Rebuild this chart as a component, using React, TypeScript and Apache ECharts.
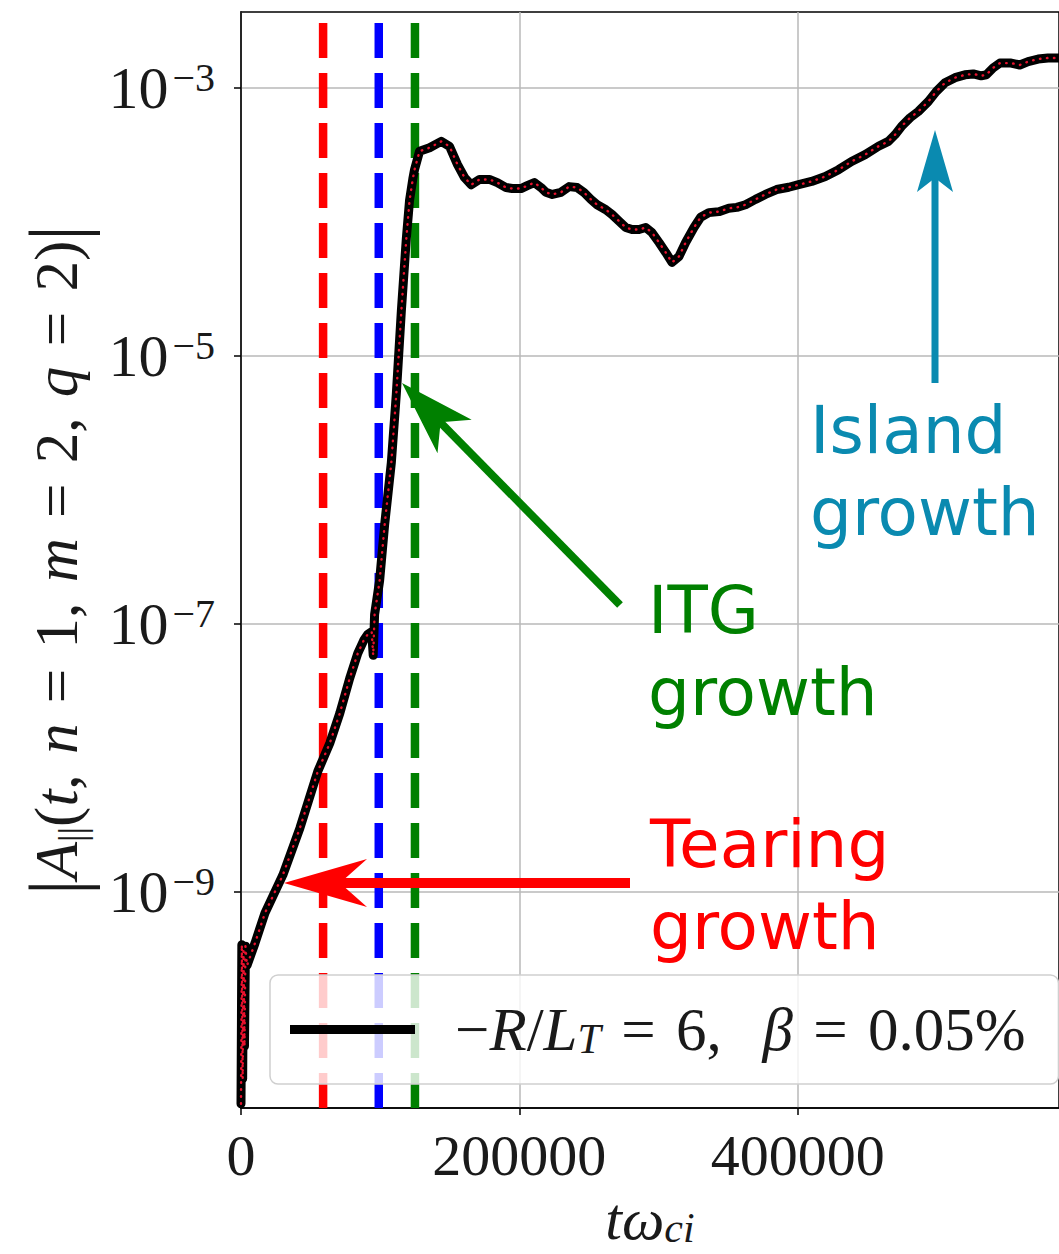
import React, { useEffect, useRef } from "react";
import * as echarts from "echarts";

// ---- data ----
const times = [
  0, 600, 1200, 1800, 2500, 3200, 4300, 10000, 17200, 30100, 42300, 55200, 63800, 71000, 78100,
  83900, 88200, 91000, 93900, 95000, 96000, 99600, 103200, 108000, 111600, 115200, 118800, 121100,
  123500, 124700, 128300, 135500, 143900, 149800, 155600, 160600, 165400, 171300, 178500, 184200,
  190500, 195000, 201200, 205700, 210800, 215600, 219100, 223700, 229900, 235800, 241600, 246600,
  251400, 255900, 262200, 266700, 271700, 276500, 281000, 286000, 290800, 295300, 300400, 305200,
  309700, 314700, 319500, 325500, 330300, 336200, 343400, 350500, 356300, 362500, 369700, 376800,
  384900, 393600, 400700, 410000, 419900, 429400, 438700, 448500, 458100, 465200, 470000, 474600,
  480800, 486700, 493900, 499600, 505900, 513100, 520200, 526200, 531900, 535500, 540500, 545300,
  553400, 559600, 565600, 572800, 579900, 587800,
];
const amplitude = [
  2.6e-11, 4.0e-10, 4.0e-11, 3.6e-10, 7.0e-11, 3.9e-10, 2.8e-10, 4.1e-10, 6.9e-10, 1.33e-9, 2.97e-9,
  7.9e-9, 1.28e-8, 2.14e-8, 3.9e-8, 6.0e-8, 7.5e-8, 8.3e-8, 8.7e-8, 5.8e-8, 1.17e-7, 2.09e-7,
  5.45e-7, 1.58e-6, 5.16e-6, 2.14e-5, 7.5e-5, 1.44e-4, 2.1e-4, 2.45e-4, 3.36e-4, 3.57e-4, 3.98e-4,
  3.66e-4, 2.67e-4, 2.14e-4, 1.89e-4, 2.07e-4, 2.07e-4, 1.96e-4, 1.8e-4, 1.77e-4, 1.77e-4, 1.86e-4,
  1.96e-4, 1.8e-4, 1.66e-4, 1.6e-4, 1.66e-4, 1.83e-4, 1.8e-4, 1.65e-4, 1.47e-4, 1.34e-4, 1.23e-4,
  1.13e-4, 1.01e-4, 9.06e-5, 8.75e-5, 8.75e-5, 9.06e-5, 8.31e-5, 7.0e-5, 5.9e-5, 4.97e-5, 5.5e-5,
  7.0e-5, 9.06e-5, 1.08e-4, 1.17e-4, 1.19e-4, 1.26e-4, 1.28e-4, 1.34e-4, 1.47e-4, 1.6e-4, 1.74e-4,
  1.81e-4, 1.89e-4, 2.0e-4, 2.18e-4, 2.45e-4, 2.82e-4, 3.17e-4, 3.66e-4, 3.98e-4, 4.47e-4, 5.15e-4,
  5.98e-4, 6.66e-4, 7.91e-4, 9.38e-4, 1.09e-3, 1.19e-3, 1.25e-3, 1.27e-3, 1.23e-3, 1.25e-3, 1.41e-3,
  1.53e-3, 1.53e-3, 1.48e-3, 1.57e-3, 1.64e-3, 1.67e-3, 1.67e-3,
];
const markerTimes = [59000, 99000, 125000];
const markerColors = ["#ff0000", "#0000ff", "#008000"];
const xTicks = [0, 200000, 400000];
const yTickExponents = [-9, -7, -5, -3];
const seriesName = "-R/L_T = 6, beta = 0.05%";

const X_MIN = 0;
const X_MAX = 587800;
const Y_MIN_EXP = -10.617;
const Y_MAX_EXP = -2.434;

const serif = '"Liberation Serif", "Times New Roman", serif';
const sans = '"DejaVu Sans", sans-serif';
const TEAL = "#0a8ab0";
const INK = "#1a1a1a";

export default function App() {
  const ref = useRef<HTMLDivElement>(null);
  useEffect(() => {
    document.body.style.margin = "0";
    const chart = echarts.init(ref.current!, null, { renderer: "svg" });
    const data = times.map((t, i) => [t, Math.log10(amplitude[i])]);
    const dashed = markerTimes.map((t, i) => ({
      type: "line",
      data: [
        [t, Y_MIN_EXP],
        [t, Y_MAX_EXP],
      ],
      symbol: "none",
      silent: true,
      z: 3,
      lineStyle: { color: markerColors[i], width: 8.5, type: [35, 15] },
    }));
    const sp = "\u2004";
    const eq = sp + "=" + sp;
    const option: any = {
      animation: false,
      grid: {
        left: 241,
        right: -2,
        top: 12,
        bottom: 144,
        show: true,
        borderColor: "#000",
        borderWidth: 1.5,
      },
      xAxis: {
        type: "value",
        min: X_MIN,
        max: X_MAX,
        axisLine: { show: true, onZero: false, lineStyle: { color: "#000", width: 1.5 } },
        axisTick: {
          show: true,
          length: 7,
          customValues: xTicks,
          lineStyle: { color: "#000", width: 1.5 },
        },
        axisLabel: {
          customValues: xTicks,
          margin: 18,
          fontFamily: serif,
          fontSize: 58,
          lineHeight: 58,
          color: INK,
          formatter: (v: number) => String(v),
        },
        splitLine: { show: true, lineStyle: { color: "#b8b8b8", width: 1.5 } },
        name: "{i|tω}{sub|ci}",
        nameLocation: "middle",
        nameGap: 78,
        nameTextStyle: {
          rich: {
            i: { fontFamily: serif, fontStyle: "italic", fontSize: 60, lineHeight: 60, color: INK },
            sub: {
              fontFamily: serif,
              fontStyle: "italic",
              fontSize: 42,
              lineHeight: 24,
              verticalAlign: "bottom",
              color: INK,
            },
          },
        },
      },
      yAxis: {
        type: "value",
        min: Y_MIN_EXP,
        max: Y_MAX_EXP,
        axisLine: { show: true, onZero: false, lineStyle: { color: "#000", width: 1.5 } },
        axisTick: {
          show: true,
          length: 7,
          customValues: yTickExponents,
          lineStyle: { color: "#000", width: 1.5 },
        },
        axisLabel: {
          customValues: yTickExponents,
          margin: 26,
          formatter: (v: number) => `{b|10}{s|−${Math.abs(Math.round(v))}}`,
          rich: {
            b: { fontFamily: serif, fontSize: 60, lineHeight: 60, color: INK },
            s: {
              fontFamily: serif,
              fontSize: 40,
              lineHeight: 30,
              verticalAlign: "top",
              color: INK,
              padding: [0, 0, 0, 4],
            },
          },
        },
        splitLine: { show: true, lineStyle: { color: "#b8b8b8", width: 1.5 } },
        name:
          "{bar||}{i|A}{sub|||}{n|(}{i|t}{n|," + sp + "}{i|n}{n|" + eq + "1," + sp + "}{i|m}{n|" + eq +
          "2," + sp + "}{i|q}{n|" + eq + "2)}{bar||}",
        nameLocation: "middle",
        nameGap: 150,
        nameRotate: 90,
        nameTextStyle: {
          rich: {
            n: { fontFamily: serif, fontSize: 61, lineHeight: 70, color: INK },
            i: { fontFamily: serif, fontStyle: "italic", fontSize: 61, lineHeight: 70, color: INK },
            bar: { fontFamily: serif, fontSize: 78, lineHeight: 70, color: INK },
            sub: { fontFamily: serif, fontSize: 38, lineHeight: 30, verticalAlign: "bottom", color: INK },
          },
        },
      },
      legend: {
        show: true,
        left: 270,
        top: 975,
        z: 10,
        padding: [24, 33, 24, 20],
        itemWidth: 125,
        itemHeight: 9,
        backgroundColor: "rgba(255,255,255,0.8)",
        borderColor: "#cfcfcf",
        borderWidth: 1.5,
        borderRadius: 8,
        data: [{ name: seriesName, icon: "rect", itemStyle: { color: "#000" } }],
        formatter: () =>
          "{n|−}{i|R}{n|/}{i|L}{sub|T}{n|" + eq + "6," + sp + sp + "}{i|β}{n|" + eq + "0.05%}",
        textStyle: {
          padding: [0, 0, 0, 35],
          rich: {
            n: { fontFamily: serif, fontSize: 61, lineHeight: 60, color: INK },
            i: { fontFamily: serif, fontStyle: "italic", fontSize: 61, lineHeight: 60, color: INK },
            sub: {
              fontFamily: serif,
              fontStyle: "italic",
              fontSize: 42,
              lineHeight: 24,
              verticalAlign: "bottom",
              color: INK,
            },
          },
        },
      },
      series: [
        ...dashed,
        {
          name: seriesName,
          type: "line",
          data,
          symbol: "none",
          z: 5,
          itemStyle: { color: "#000" },
          lineStyle: { color: "#000", width: 9, cap: "round", join: "round" },
        },
        {
          type: "line",
          data,
          symbol: "none",
          silent: true,
          z: 6,
          lineStyle: { color: "#e8112d", width: 2.4, type: [0.5, 6.5], cap: "round" },
        },
      ],
      graphic: [
        // Island growth arrow
        { type: "line", z: 20, shape: { x1: 935, y1: 383, x2: 935, y2: 176 }, style: { stroke: TEAL, lineWidth: 7 } },
        {
          type: "polygon",
          z: 20,
          shape: { points: [[935, 130], [917, 192], [935, 178], [953, 192]] },
          style: { fill: TEAL },
        },
        // ITG arrow
        { type: "line", z: 20, shape: { x1: 620, y1: 605, x2: 438, y2: 420 }, style: { stroke: "#008000", lineWidth: 8 } },
        {
          type: "polygon",
          z: 20,
          shape: { points: [[402, 383], [437.5, 453.3], [440.6, 422.3], [471.7, 419.7]] },
          style: { fill: "#008000" },
        },
        // Tearing arrow
        { type: "line", z: 20, shape: { x1: 630, y1: 883, x2: 338, y2: 883 }, style: { stroke: "#ff0000", lineWidth: 10 } },
        {
          type: "polygon",
          z: 20,
          shape: { points: [[284, 883], [367, 859], [340, 883], [367, 907]] },
          style: { fill: "#ff0000" },
        },
        {
          type: "text",
          z: 20,
          x: 810,
          y: 389,
          style: { text: "Island\ngrowth", fontFamily: sans, fontSize: 66, lineHeight: 82, fill: TEAL, verticalAlign: "top" },
        },
        {
          type: "text",
          z: 20,
          x: 648,
          y: 569,
          style: { text: "ITG\ngrowth", fontFamily: sans, fontSize: 66, lineHeight: 82, fill: "#008000", verticalAlign: "top" },
        },
        {
          type: "text",
          z: 20,
          x: 650,
          y: 803,
          style: { text: "Tearing\ngrowth", fontFamily: sans, fontSize: 66, lineHeight: 82, fill: "#ff0000", verticalAlign: "top" },
        },
      ],
    };
    chart.setOption(option);
    return () => chart.dispose();
  }, []);
  return <div ref={ref} style={{ width: 1059, height: 1254 }} />;
}
